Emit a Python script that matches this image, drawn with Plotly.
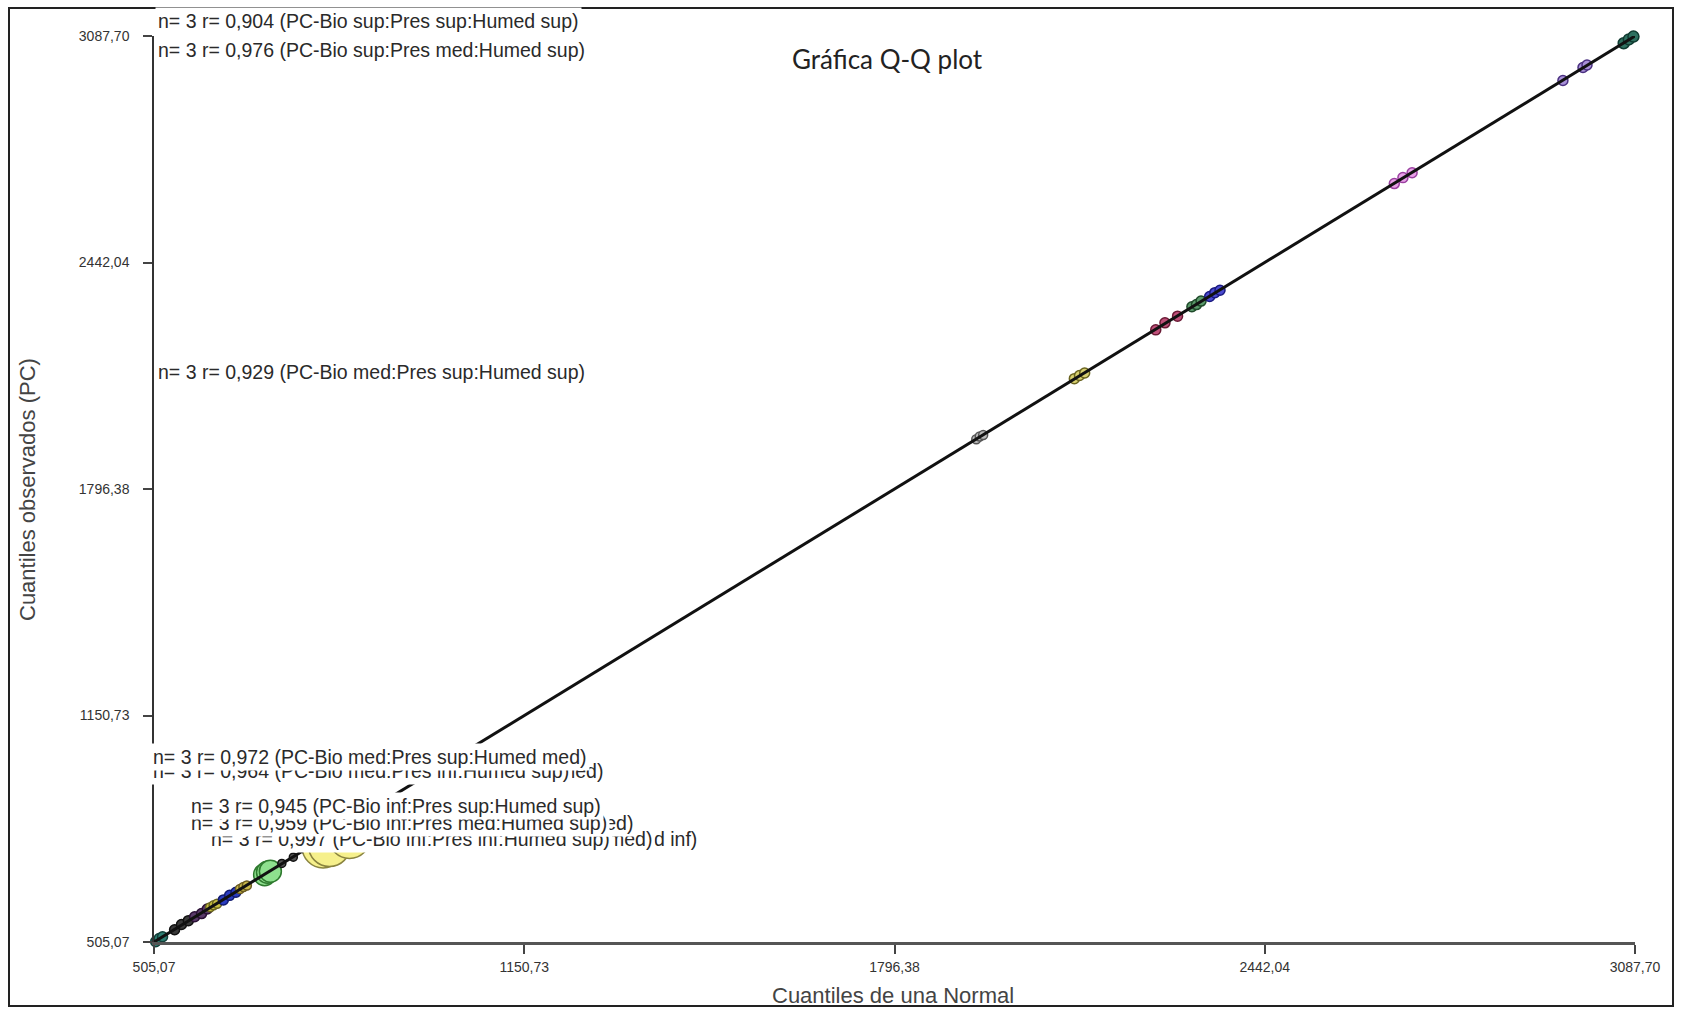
import plotly.graph_objects as go

# ---- axis scale (quantile range and tick labels, decimal comma) ----
tick_vals = [505.07, 1150.73, 1796.38, 2442.04, 3087.70]
tick_text = ["505,07", "1150,73", "1796,38", "2442,04", "3087,70"]

# ---- quantile pairs per group: normal quantile (x) vs observed PC quantile (y) ----
teal_lo_x = [508, 514, 520]
teal_lo_y = [506, 515, 520]
dark_a_x = [541, 553, 565]
dark_a_y = [540, 555, 566]
purple_lo_x = [576, 588, 598]
purple_lo_y = [577, 586, 599]
olive_a_x = [603, 609, 615]
olive_a_y = [604, 610, 614]
blue_lo_x = [626, 637, 648]
blue_lo_y = [625, 638, 647]
olive_b_x = [655, 661, 667]
olive_b_y = [656, 662, 666]
green_x = [698, 703, 708]
green_y = [697, 704, 707]
dark_b_x = [728, 748, 768]
dark_b_y = [729, 747, 769]
yellow_x = [800, 811, 846]
yellow_y = [776, 780, 803]
gray_x = [1939, 1945, 1951]
gray_y = [1938, 1946, 1950]
olive_hi_x = [2110, 2119, 2128]
olive_hi_y = [2111, 2120, 2127]
red_x = [2252, 2268, 2290]
red_y = [2250, 2270, 2289]
green_hi_x = [2315, 2323, 2331]
green_hi_y = [2316, 2322, 2332]
blue_hi_x = [2346, 2355, 2364]
blue_hi_y = [2345, 2356, 2363]
pink_x = [2668, 2683, 2699]
pink_y = [2667, 2684, 2698]
violet_x = [2962, 2997, 3004]
violet_y = [2961, 2998, 3005]
teal_hi_x = [3068, 3077, 3085]
teal_hi_y = [3067, 3078, 3086]

# ---- group labels (n and correlation) ----
lbl_904 = "n= 3 r= 0,904 (PC-Bio sup:Pres sup:Humed sup)"
lbl_976 = "n= 3 r= 0,976 (PC-Bio sup:Pres med:Humed sup)"
lbl_929 = "n= 3 r= 0,929 (PC-Bio med:Pres sup:Humed sup)"
lbl_972 = "n= 3 r= 0,972 (PC-Bio med:Pres sup:Humed med)"
lbl_964 = "n= 3 r= 0,964 (PC-Bio med:Pres inf:Humed sup)"
lbl_945 = "n= 3 r= 0,945 (PC-Bio inf:Pres sup:Humed sup)"
lbl_959 = "n= 3 r= 0,959 (PC-Bio inf:Pres med:Humed sup)"
lbl_997 = "n= 3 r= 0,997 (PC-Bio inf:Pres inf:Humed sup)"

# ---- canvas geometry ----
W, H = 1681, 1010
ML, MT, PW, PH = 154, 36, 1481, 906


def px(xp):
    return (xp - ML) / PW


def py(yp):
    return (MT + PH - yp) / PH


fig = go.Figure()

# (x, y, fill, outline, size)
groups = [
    (teal_lo_x, teal_lo_y, "#2e7f73", "#123f3a", 10),
    (dark_a_x, dark_a_y, "#3a3a3a", "#111111", 10),
    (purple_lo_x, purple_lo_y, "#5a3a6a", "#2a1035", 10),
    (olive_a_x, olive_a_y, "#c8c040", "#6a6520", 9),
    (blue_lo_x, blue_lo_y, "#2a3cc0", "#101a70", 10),
    (olive_b_x, olive_b_y, "#c9b84a", "#6a5a20", 9),
    (green_x, green_y, "#8ee08e", "#2f7a2f", 22),
    (dark_b_x, dark_b_y, "#555555", "#111111", 8),
    (yellow_x, yellow_y, "#f6f08c", "#8a8440", 42),
    (gray_x, gray_y, "#bbbbbb", "#555555", 9),
    (olive_hi_x, olive_hi_y, "#d8d070", "#6a6420", 10),
    (red_x, red_y, "#c0507a", "#6a1a35", 10),
    (green_hi_x, green_hi_y, "#5a9a6a", "#1f4a2a", 10),
    (blue_hi_x, blue_hi_y, "#4a4ad0", "#1a1a80", 10),
    (pink_x, pink_y, "#e8a0e8", "#9a40a0", 10),
    (violet_x, violet_y, "#a890d8", "#4a3080", 10),
    (teal_hi_x, teal_hi_y, "#2e7060", "#0f3a30", 11),
]

for gx, gy, fill, edge, size in groups:
    fig.add_trace(go.Scatter(
        x=gx, y=gy, mode="markers", showlegend=False, cliponaxis=False,
        marker=dict(symbol="circle", size=size, color=fill,
                    line=dict(color=edge, width=1.5)),
    ))

# reference line y = x over the full quantile range
fig.add_trace(go.Scatter(
    x=[tick_vals[0], tick_vals[-1]], y=[tick_vals[0], tick_vals[-1]],
    mode="lines", showlegend=False, cliponaxis=False,
    line=dict(color="#111111", width=3),
))

LBL_FONT = dict(family="Liberation Sans, Arial, sans-serif", size=19.5, color="#2a2a2a")


def label(text, xl, yc):
    fig.add_annotation(
        text=text, xref="paper", yref="paper", x=px(xl), y=py(yc),
        xanchor="left", yanchor="middle", showarrow=False,
        font=LBL_FONT, bgcolor="white", borderpad=2,
    )


# top labels
label(lbl_904, 155, 21)
label(lbl_976, 155, 50)
label(lbl_929, 155, 372)

# lower-left stacked labels (drawn bottom-up so the upper boxes overlap the lower ones)
label("d inf)", 651, 839)
label("med)", 605, 839)
label(lbl_997, 208, 839)
label("med)", 586, 823)
label(lbl_959, 188, 823)
label(lbl_945, 188, 806)
label("med)", 556, 771)
label(lbl_964, 150, 771)
label(lbl_972, 150, 757)

# chart title and axis titles
fig.add_annotation(
    text="Gráfica Q-Q plot", xref="paper", yref="paper", x=px(887), y=py(59),
    xanchor="center", yanchor="middle", showarrow=False,
    font=dict(family="Lato, Carlito, sans-serif", size=26, color="#222222"),
)
fig.add_annotation(
    text="Cuantiles observados (PC)", xref="paper", yref="paper", x=px(27), y=py(489),
    xanchor="center", yanchor="middle", showarrow=False, textangle=-90,
    font=dict(family="Liberation Sans, Arial, sans-serif", size=22, color="#444444"),
)
fig.add_annotation(
    text="Cuantiles de una Normal", xref="paper", yref="paper", x=px(893), y=py(995),
    xanchor="center", yanchor="middle", showarrow=False,
    font=dict(family="Liberation Sans, Arial, sans-serif", size=22, color="#444444"),
)

# outer frame around the whole chart
fig.add_shape(
    type="rect", xref="paper", yref="paper",
    x0=px(9), x1=px(1673), y0=py(1006), y1=py(8),
    line=dict(color="#222222", width=2), fillcolor="rgba(0,0,0,0)", layer="above",
)

axis_common = dict(
    range=[tick_vals[0], tick_vals[-1]], tickmode="array",
    tickvals=tick_vals, ticktext=tick_text,
    showgrid=False, zeroline=False, showline=True,
    ticks="outside", ticklen=9, tickwidth=1.5, tickcolor="#444444",
    tickfont=dict(family="Liberation Sans, Arial, sans-serif", size=14, color="#333333"),
)

fig.update_layout(
    width=W, height=H,
    margin=dict(l=ML, r=W - ML - PW, t=MT, b=H - MT - PH),
    paper_bgcolor="white", plot_bgcolor="white",
    xaxis=dict(**axis_common, linecolor="#555555", linewidth=3, ticklabelstandoff=1),
    yaxis=dict(**axis_common, linecolor="#333333", linewidth=1.5, ticklabelstandoff=11),
)

fig.write_html("out.html")
